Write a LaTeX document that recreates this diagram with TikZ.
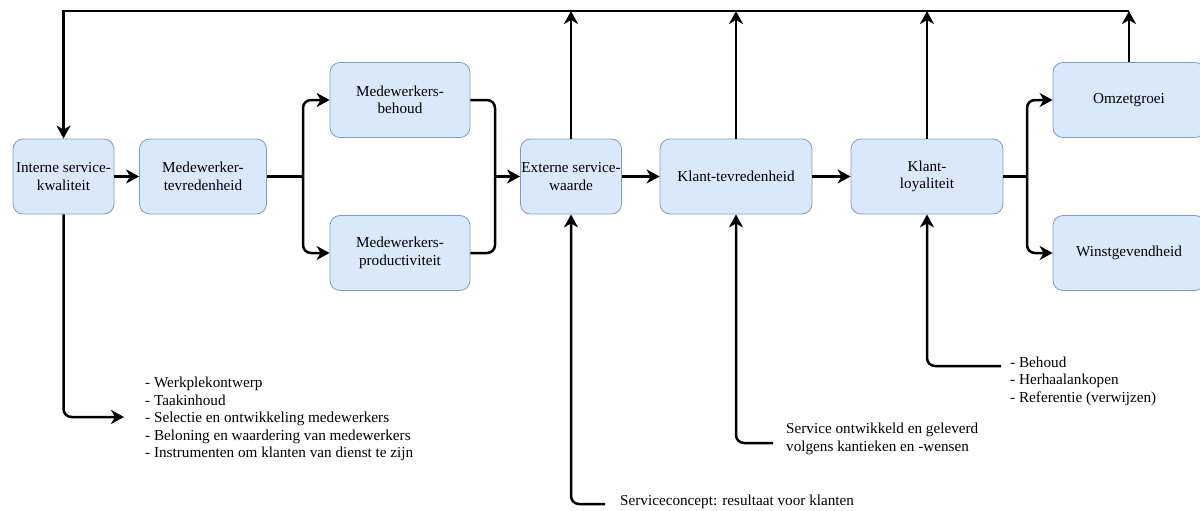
\documentclass[tikz,border=0pt]{standalone}
\usepackage{fontspec}
\setmainfont{Liberation Serif}
\usetikzlibrary{arrows.meta}
\definecolor{boxfill}{HTML}{DAE8FC}
\definecolor{boxline}{HTML}{7F9CC8}
\begin{document}
\begin{tikzpicture}[x=1pt,y=-1pt,>={Stealth[length=13pt,width=14pt,inset=4pt]},
  box/.style={draw=boxline,fill=boxfill,line width=0.8pt,rounded corners=10pt,align=center,minimum height=75pt,inner sep=1pt,font=\fontsize{15.2}{17.5}\selectfont},
  note/.style={anchor=west,align=left,inner sep=0pt,font=\fontsize{15.2}{17.6}\selectfont},
  conn/.style={line width=2.5pt,rounded corners=8pt}]
\useasboundingbox (0,0) rectangle (1200,511);

\node[box,minimum width=101pt] (int) at (63.5,176.5) {Interne service-\\kwaliteit};
\node[box,minimum width=127pt] (mtv) at (203,176.5) {Medewerker-\\tevredenheid};
\node[box,minimum width=140pt] (mbh) at (400,100) {Medewerkers-\\behoud};
\node[box,minimum width=140pt] (mpr) at (400,253) {Medewerkers-\\productiviteit};
\node[box,minimum width=101pt] (esw) at (571,176.5) {Externe service-\\waarde};
\node[box,minimum width=152pt] (ktv) at (736,176.5) {Klant-tevredenheid};
\node[box,minimum width=152pt] (kly) at (927,176.5) {Klant-\\loyaliteit};
\node[box,minimum width=152pt] (omz) at (1129,100) {Omzetgroei};
\node[box,minimum width=152pt] (wst) at (1129,253) {Winstgevendheid};

\node[note] (lijst) at (145,419) {- Werkplekontwerp\\- Taakinhoud\\- Selectie en ontwikkeling medewerkers\\- Beloning en waardering van medewerkers\\- Instrumenten om klanten van dienst te zijn};
\node[note] (concept) at (620,502) {Serviceconcept: resultaat voor klanten};
\node[note] (geleverd) at (786,439) {Service ontwikkeld en geleverd\\volgens kantieken en -wensen};
\node[note] (loyaal) at (1010,381) {- Behoud\\- Herhaalankopen\\- Referentie (verwijzen)};

\coordinate (top) at (0,11);
\coordinate (s1) at (303,176.5);
\coordinate (s2) at (495,176.5);
\coordinate (s3) at (1027,176.5);
\coordinate (c1) at (124,417);
\coordinate (c2) at (605,504);
\coordinate (c3) at (773,443);
\coordinate (c4) at (1001,366);

\draw[conn,->] (int) -- (mtv);
\draw[conn] (mtv.east) -- (s1);
\draw[conn,->] (s1) |- (mbh.west);
\draw[conn,->] (s1) |- (mpr.west);
\draw[conn] (mbh.east) -| (s2);
\draw[conn] (mpr.east) -| (s2);
\draw[conn,->] (s2) -- (esw.west);
\draw[conn,->] (esw) -- (ktv);
\draw[conn,->] (ktv) -- (kly);
\draw[conn] (kly.east) -- (s3);
\draw[conn,->] (s3) |- (omz.west);
\draw[conn,->] (s3) |- (wst.west);

\draw[conn,->] (esw.north) -- (esw.north |- top);
\draw[conn,->] (ktv.north) -- (ktv.north |- top);
\draw[conn,->] (kly.north) -- (kly.north |- top);
\draw[conn,->] (omz.north) -- (omz.north |- top);
\draw[line width=2.5pt,->] (omz.north |- top) -| (int.north);

\draw[conn,->] (int.south) |- (c1);
\draw[conn,->] (c2) -| (esw.south);
\draw[conn,->] (c3) -| (ktv.south);
\draw[conn,->] (c4) -| (kly.south);
\end{tikzpicture}
\end{document}
